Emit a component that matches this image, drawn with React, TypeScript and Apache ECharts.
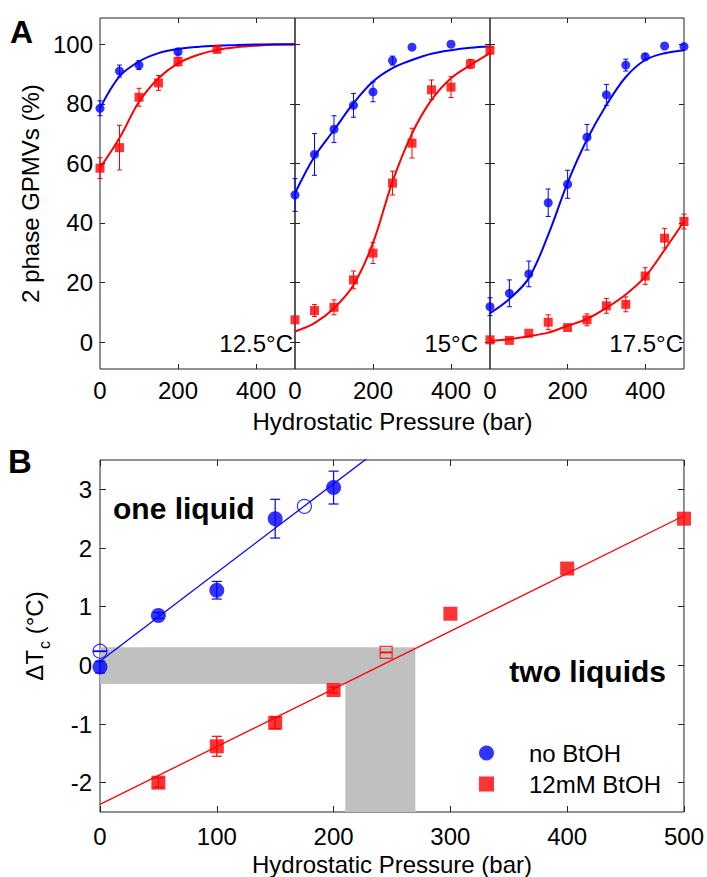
import React, { useEffect, useRef } from 'react';
import * as echarts from 'echarts';

// ---------- Panel A data ----------
const fitX = [0, 50, 100, 150, 200, 250, 300, 350, 400, 450, 500];

// 12.5 °C
const blue12X = [0, 50, 100, 200];
const blue12Y = [78.5, 91, 93, 97.5];
const blue12Err = [2.5, 2, 1.5, 1];
const red12X = [0, 50, 100, 150, 200, 300];
const red12Y = [58.4, 65.3, 82.2, 87, 94.2, 98.3];
const red12Err = [3.5, 7.5, 3, 2.5, 1.5, 1];
const blue12Fit = [78.5, 89.2, 94.2, 97, 98.4, 99.1, 99.5, 99.7, 99.9, 100, 100];
const red12Fit = [58.5, 68.5, 80.7, 88.6, 93.6, 96.4, 98.1, 99, 99.5, 99.8, 99.9];

// 15 °C
const blue15X = [0, 50, 100, 150, 200, 250, 300, 400];
const blue15Y = [49.4, 63, 71.5, 79.5, 84, 94.5, 99, 100];
const blue15Err = [5.5, 7, 4.5, 4, 3.3, 1.5, 0, 0];
const red15X = [0, 50, 100, 150, 200, 250, 300, 350, 400, 450, 500];
const red15Y = [7.5, 10.6, 11.7, 20.9, 29.9, 53.4, 66.8, 84.7, 85.6, 93.4, 98];
const red15Err = [0, 2, 2.5, 3, 3.5, 4, 5, 3.3, 3.5, 1.5, 1];
const blue15Fit = [50, 62.3, 71.2, 80.2, 87.5, 92, 94.7, 96.8, 98, 98.8, 99.2];
const red15Fit = [3.6, 6.4, 11.4, 19.2, 33.3, 53.9, 70, 81.3, 88.6, 93, 97];

// 17.5 °C
const blue17X = [0, 50, 100, 150, 200, 250, 300, 350, 400, 450, 500];
const blue17Y = [11.9, 16.4, 22.9, 46.8, 53, 68.8, 83, 93, 95.8, 99.4, 99.2];
const blue17Err = [3, 4.5, 4.3, 4.6, 4.7, 4.3, 3.5, 2, 1, 0, 0];
const red17X = [0, 50, 100, 150, 200, 250, 300, 350, 400, 450, 500];
const red17Y = [0.8, 0.6, 3, 6.7, 4.9, 7.5, 12.2, 12.7, 22.2, 34.9, 40.5];
const red17Err = [0, 0, 0, 2.5, 0, 2, 2.5, 2.5, 2.8, 3.3, 2.5];
const blue17Fit = [9.7, 14.5, 21.5, 36, 53.5, 68, 79.6, 89, 94.7, 97, 98];
const red17Fit = [0.5, 1, 2, 3.2, 5.5, 7.8, 11.5, 16, 22, 31, 40.5];

const tempLabels = ['12.5°C', '15°C', '17.5°C'];
const yTicksA = [0, 20, 40, 60, 80, 100];
const xLabelsA = [0, 200, 400];
const xTicksA = [200, 400];

// ---------- Panel B data ----------
const blueBX = [0, 50, 100, 150, 200];
const blueBY = [-0.03, 0.85, 1.28, 2.5, 3.03];
const blueBErr = [0.1, 0.05, 0.15, 0.33, 0.28];
const blueOpenX = [0, 175];
const blueOpenY = [0.24, 2.71];
const blueOpenErr = [0.005, 0];
const redBX = [50, 100, 150, 200, 300, 400, 500];
const redBY = [-2.0, -1.38, -0.98, -0.42, 0.88, 1.65, 2.5];
const redBErr = [0.08, 0.17, 0.1, 0.05, 0, 0, 0];
const redOpenX = [245];
const redOpenY = [0.22];
const redOpenErr = [0.005];
const blueFitX = [0, 250];
const blueFitY = [0.07, 3.85];
const redFitX = [0, 500];
const redFitY = [-2.37, 2.55];
// shaded rectangles: [x0, x1, y0, y1]
const shadeRects = [
  [0, 270, -0.32, 0.31],
  [210, 270, -2.5, -0.32],
];
const yTicksB = [-2, -1, 0, 1, 2, 3];
const seriesNames = ['no BtOH', '12mM BtOH'];

const BLUE = '#0000ff';
const RED = '#ff0000';
const FONT = '"Liberation Sans", Arial, Helvetica, sans-serif';

const pairs = (xs: number[], ys: number[]) => xs.map((x, i) => [x, ys[i]]);
const triples = (xs: number[], ys: number[], es: number[]) =>
  xs.map((x, i) => [x, ys[i], es[i]]).filter((d) => d[2] > 0);

function errSeries(data: number[][], idx: number, color: string, cap: number, width: number) {
  return {
    type: 'custom',
    xAxisIndex: idx,
    yAxisIndex: idx,
    z: 3,
    silent: true,
    data,
    renderItem: (_p: any, api: any) => {
      const x = api.value(0);
      const y = api.value(1);
      const e = api.value(2);
      const t = api.coord([x, y + e]);
      const b = api.coord([x, y - e]);
      const st = { stroke: color, lineWidth: width };
      return {
        type: 'group',
        children: [
          { type: 'line', shape: { x1: t[0], y1: t[1], x2: b[0], y2: b[1] }, style: st },
          { type: 'line', shape: { x1: t[0] - cap, y1: t[1], x2: t[0] + cap, y2: t[1] }, style: st },
          { type: 'line', shape: { x1: b[0] - cap, y1: b[1], x2: b[0] + cap, y2: b[1] }, style: st },
        ],
      };
    },
  };
}

export default function App() {
  const ref = useRef<HTMLDivElement>(null);
  useEffect(() => {
    if (!ref.current) return;
    const chart = echarts.init(ref.current, undefined, { renderer: 'svg' });

    const gridsA = [
      { left: 100, top: 18, width: 195, height: 351 },
      { left: 295, top: 18, width: 195, height: 351 },
      { left: 490, top: 18, width: 194, height: 351 },
    ];
    const gridB = { left: 100, top: 460, width: 584, height: 352 };
    const grids = [...gridsA, gridB].map((g) => ({
      ...g,
      show: true,
      borderColor: '#222',
      borderWidth: 1,
      backgroundColor: 'transparent',
    }));

    const tickStyle = { color: '#222', width: 1 };
    const labelStyle = { fontSize: 24, color: '#000', fontFamily: FONT };
    const noLine = { show: false, onZero: false };

    const xAxis: any[] = [];
    const yAxis: any[] = [];
    for (let g = 0; g < 3; g++) {
      xAxis.push({
        type: 'value', gridIndex: g, min: 0, max: 500, position: 'bottom',
        axisLine: noLine,
        axisTick: { inside: true, length: 5, customValues: xTicksA, lineStyle: tickStyle },
        axisLabel: { ...labelStyle, customValues: xLabelsA, margin: 9 },
        splitLine: { show: false },
        name: g === 1 ? 'Hydrostatic Pressure (bar)' : '',
        nameLocation: 'middle', nameGap: 40,
        nameTextStyle: { ...labelStyle },
      });
      xAxis.push({
        type: 'value', gridIndex: g, min: 0, max: 500, position: 'top',
        axisLine: noLine,
        axisTick: { inside: true, length: 5, customValues: xTicksA, lineStyle: tickStyle },
        axisLabel: { show: false },
        splitLine: { show: false },
      });
      yAxis.push({
        type: 'value', gridIndex: g, min: -9, max: 108.8, position: 'left',
        axisLine: noLine,
        axisTick: { inside: true, length: 5, customValues: yTicksA, lineStyle: tickStyle },
        axisLabel: { ...labelStyle, show: g === 0, customValues: yTicksA, margin: 7 },
        splitLine: { show: false },
        name: g === 0 ? '2 phase GPMVs (%)' : '',
        nameLocation: 'middle', nameGap: 58,
        nameTextStyle: { ...labelStyle },
      });
      yAxis.push({
        type: 'value', gridIndex: g, min: -9, max: 108.8, position: 'right',
        axisLine: noLine,
        axisTick: { inside: true, length: 5, customValues: yTicksA, lineStyle: tickStyle },
        axisLabel: { show: false },
        splitLine: { show: false },
      });
    }
    // Panel B axes
    xAxis.push({
      type: 'value', gridIndex: 3, min: 0, max: 500, interval: 100, position: 'bottom',
      axisLine: noLine,
      axisTick: { inside: true, length: 6, lineStyle: tickStyle },
      axisLabel: { ...labelStyle, margin: 12 },
      splitLine: { show: false },
      name: 'Hydrostatic Pressure (bar)', nameLocation: 'middle', nameGap: 40,
      nameTextStyle: { ...labelStyle },
    });
    xAxis.push({
      type: 'value', gridIndex: 3, min: 0, max: 500, interval: 100, position: 'top',
      axisLine: noLine,
      axisTick: { inside: true, length: 6, lineStyle: tickStyle },
      axisLabel: { show: false },
      splitLine: { show: false },
    });
    yAxis.push({
      type: 'value', gridIndex: 3, min: -2.5, max: 3.5, position: 'left',
      axisLine: noLine,
      axisTick: { inside: true, length: 6, customValues: yTicksB, lineStyle: tickStyle },
      axisLabel: { ...labelStyle, customValues: yTicksB, margin: 8 },
      splitLine: { show: false },
      name: '{a|ΔT}{s|c}{a| (°C)}', nameLocation: 'middle', nameGap: 52,
      nameTextStyle: {
        ...labelStyle,
        rich: {
          a: { fontSize: 24, fontFamily: FONT, color: '#000', verticalAlign: 'top', lineHeight: 26 },
          s: { fontSize: 16, fontFamily: FONT, color: '#000', verticalAlign: 'top', lineHeight: 18, padding: [14, 0, 0, 1] },
        },
      },
    });
    yAxis.push({
      type: 'value', gridIndex: 3, min: -2.5, max: 3.5, position: 'right',
      axisLine: noLine,
      axisTick: { inside: true, length: 6, customValues: yTicksB, lineStyle: tickStyle },
      axisLabel: { show: false },
      splitLine: { show: false },
    });

    const series: any[] = [];
    const panelA = [
      { bx: blue12X, by: blue12Y, be: blue12Err, rx: red12X, ry: red12Y, re: red12Err, bf: blue12Fit, rf: red12Fit },
      { bx: blue15X, by: blue15Y, be: blue15Err, rx: red15X, ry: red15Y, re: red15Err, bf: blue15Fit, rf: red15Fit },
      { bx: blue17X, by: blue17Y, be: blue17Err, rx: red17X, ry: red17Y, re: red17Err, bf: blue17Fit, rf: red17Fit },
    ];
    panelA.forEach((p, g) => {
      const idx = g * 2;
      series.push({
        type: 'line', xAxisIndex: idx, yAxisIndex: idx, data: pairs(fitX, p.rf), smooth: 0.35,
        showSymbol: false, lineStyle: { color: RED, width: 2 }, z: 2, silent: true,
      });
      series.push({
        type: 'line', xAxisIndex: idx, yAxisIndex: idx, data: pairs(fitX, p.bf), smooth: 0.35,
        showSymbol: false, lineStyle: { color: BLUE, width: 2 }, z: 2, silent: true,
      });
      series.push(errSeries(triples(p.rx, p.ry, p.re), idx, RED, 2.5, 1));
      series.push(errSeries(triples(p.bx, p.by, p.be), idx, BLUE, 2.5, 1));
      series.push({
        type: 'scatter', xAxisIndex: idx, yAxisIndex: idx, data: pairs(p.rx, p.ry),
        symbol: 'rect', symbolSize: 9, itemStyle: { color: RED }, z: 4, silent: true,
      });
      series.push({
        type: 'scatter', xAxisIndex: idx, yAxisIndex: idx, data: pairs(p.bx, p.by),
        symbol: 'circle', symbolSize: 9, itemStyle: { color: BLUE }, z: 4, silent: true,
      });
    });

    // Panel B
    const bIdx = 6;
    series.push({
      type: 'custom', xAxisIndex: bIdx, yAxisIndex: bIdx, z: 1, silent: true,
      data: shadeRects,
      renderItem: (_p: any, api: any) => {
        const a = api.coord([api.value(0), api.value(3)]);
        const b = api.coord([api.value(1), api.value(2)]);
        return {
          type: 'rect',
          shape: { x: a[0], y: a[1], width: b[0] - a[0], height: b[1] - a[1] },
          style: { fill: '#c0c0c0' },
        };
      },
    });
    series.push({
      type: 'line', xAxisIndex: bIdx, yAxisIndex: bIdx, data: pairs(blueFitX, blueFitY),
      showSymbol: false, lineStyle: { color: BLUE, width: 1.3 }, z: 2, silent: true, clip: true,
    });
    series.push({
      type: 'line', xAxisIndex: bIdx, yAxisIndex: bIdx, data: pairs(redFitX, redFitY),
      showSymbol: false, lineStyle: { color: RED, width: 1.3 }, z: 2, silent: true, clip: true,
    });
    series.push(errSeries(triples(blueBX, blueBY, blueBErr), bIdx, BLUE, 5, 1.2));
    series.push(errSeries(triples(redBX, redBY, redBErr), bIdx, RED, 5, 1.2));
    series.push(errSeries(triples(blueOpenX, blueOpenY, blueOpenErr), bIdx, BLUE, 7, 1.2));
    series.push(errSeries(triples(redOpenX, redOpenY, redOpenErr), bIdx, RED, 6, 1.2));
    series.push({
      type: 'scatter', name: seriesNames[0], xAxisIndex: bIdx, yAxisIndex: bIdx, data: pairs(blueBX, blueBY),
      symbol: 'circle', symbolSize: 15, itemStyle: { color: BLUE }, z: 4, silent: true,
    });
    series.push({
      type: 'scatter', name: seriesNames[1], xAxisIndex: bIdx, yAxisIndex: bIdx, data: pairs(redBX, redBY),
      symbol: 'rect', symbolSize: 14, itemStyle: { color: RED }, z: 4, silent: true,
    });
    series.push({
      type: 'scatter', xAxisIndex: bIdx, yAxisIndex: bIdx, data: pairs(blueOpenX, blueOpenY),
      symbol: 'circle', symbolSize: 14,
      itemStyle: { color: 'rgba(255,255,255,0)', borderColor: BLUE, borderWidth: 1.2 }, z: 4, silent: true,
    });
    series.push({
      type: 'scatter', xAxisIndex: bIdx, yAxisIndex: bIdx, data: pairs(redOpenX, redOpenY),
      symbol: 'rect', symbolSize: 12,
      itemStyle: { color: 'rgba(255,255,255,0)', borderColor: RED, borderWidth: 1.2 }, z: 4, silent: true,
    });

    const txt = (text: string, x: number, y: number, font: string, align: string) => ({
      type: 'text', x, y, silent: true,
      style: { text, font, fill: '#000', textAlign: align, textVerticalAlign: 'middle' },
    });

    chart.setOption({
      animation: false,
      grid: grids,
      xAxis,
      yAxis,
      series,
      legend: {
        data: [
          { name: seriesNames[0], icon: 'circle' },
          { name: seriesNames[1], icon: 'rect' },
        ],
        orient: 'vertical', left: 474, top: 736, itemWidth: 15, itemHeight: 15, itemGap: 7,
        textStyle: { fontSize: 24, color: '#000', fontFamily: FONT, padding: [0, 0, 0, 30] },
        selectedMode: false,
      },
      graphic: [
        txt('A', 10, 32, `bold 32px ${FONT}`, 'left'),
        txt('B', 8, 461, `bold 33px ${FONT}`, 'left'),
        txt(tempLabels[0], 293, 343, `24px ${FONT}`, 'right'),
        txt(tempLabels[1], 478, 343, `24px ${FONT}`, 'right'),
        txt(tempLabels[2], 683, 343, `24px ${FONT}`, 'right'),
        txt('one liquid', 113, 508, `bold 30px ${FONT}`, 'left'),
        txt('two liquids', 666, 671, `bold 30px ${FONT}`, 'right'),
      ],
    });
    return () => chart.dispose();
  }, []);
  return <div ref={ref} style={{ position: 'fixed', left: 0, top: 0, width: 707, height: 877, background: '#fff' }} />;
}
